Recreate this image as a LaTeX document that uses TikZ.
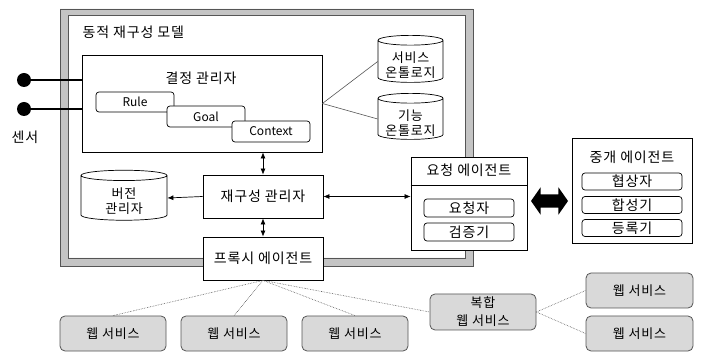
\documentclass[tikz,border=0pt]{standalone}
\usepackage{fontspec}
\setmainfont{Noto Sans CJK KR}[LetterSpace=6]
\newfontfamily\latinfont{Noto Sans CJK KR}
\usetikzlibrary{shapes.geometric,shapes.arrows,arrows.meta}
\definecolor{bandcol}{HTML}{C4C4C4}
\definecolor{edgecol}{HTML}{555555}
\definecolor{wscol}{HTML}{D9D9D9}
\tikzset{
	box/.style={draw,fill=white,line width=0.8pt,inner sep=0pt,font=\fontsize{14}{16}\selectfont},
	heading/.style={font=\fontsize{14}{16}\selectfont},
	part/.style={draw,fill=white,rounded corners=3pt,line width=0.7pt,inner sep=0pt,font=\fontsize{14}{16}\selectfont},
	store/.style={cylinder,shape border rotate=90,shape aspect=0.15,draw,fill=white,line width=0.7pt,inner sep=0pt},
	storetext/.style={align=center,inner sep=0pt,font=\fontsize{13}{15}\selectfont},
	websvc/.style={draw=edgecol,fill=wscol,rounded corners=5pt,line width=0.8pt,inner sep=0pt,minimum width=106pt,minimum height=35pt,align=center,font=\fontsize{13}{18}\selectfont},
	link/.style={draw=edgecol,line width=0.6pt,densely dotted},
	flow/.style={line width=0.7pt,-{Latex[length=6pt,width=5pt]}},
	duplex/.style={line width=0.7pt,{Latex[length=6pt,width=5pt]}-{Latex[length=6pt,width=5pt]}}
}
\begin{document}
\begin{tikzpicture}[x=1pt,y=-1pt]
\useasboundingbox (0,0) rectangle (701,352);
\filldraw[draw=edgecol,fill=bandcol,line width=0.7pt,even odd rule] (60,9) rectangle (473,266) (68,15) rectangle (465,258);
\node[heading,anchor=west] (modeltitle) at (79,32) {동적 재구성 모델};

\node[box,minimum width=240pt,minimum height=97pt] (dm) at (202,103.5) {};
\node[heading] (dmtitle) at (201,78) {결정 관리자};
\node[part,font=\latinfont\fontsize{12}{14}\selectfont,minimum width=78pt,minimum height=20pt] (rule) at (135,102) {Rule};
\node[part,font=\latinfont\fontsize{12}{14}\selectfont,minimum width=78pt,minimum height=21pt] (goal) at (206,116.5) {Goal};
\node[part,font=\latinfont\fontsize{12}{14}\selectfont,minimum width=78pt,minimum height=21pt] (context) at (271,131.5) {Context};

\node[store,minimum width=65pt,minimum height=47pt] (svconto) at (410.5,61.5) {\rule{65pt}{0pt}};
\node[storetext] (svcontotext) at (410.5,65) {서비스\\온톨로지};
\node[store,minimum width=65pt,minimum height=46pt] (funconto) at (410.5,119) {\rule{65pt}{0pt}};
\node[storetext] (funcontotext) at (410.5,123) {기능\\온톨로지};
\draw[edgecol,line width=0.6pt] (dm.east) -- (svconto.west);
\draw[edgecol,line width=0.6pt] (dm.east) -- (funconto.west);

\foreach \name/\y in {sensora/80,sensorb/109}{
	\node[circle,fill=black,minimum size=14pt,inner sep=0pt] (\name) at (24,\y) {};
	\draw[line width=2.5pt] (\name.center) -- (\name.center -| dm.west);
	}
\node[heading] (sensorlabel) at (25,137) {센서};

\node[box,minimum width=120pt,minimum height=43pt] (reconf) at (263,196.5) {재구성 관리자};
\node[store,shape aspect=0.12,minimum width=86pt,minimum height=50pt] (version) at (124,198) {\rule{86pt}{0pt}};
\node[storetext] (versiontext) at (124,201.5) {버전\\관리자};
\node[box,minimum width=120pt,minimum height=43pt] (proxy) at (263,258.5) {프록시 에이전트};

\node[box,minimum width=116pt,minimum height=93pt] (req) at (469,203.5) {};
\node[heading] (reqtitle) at (469,170) {요청 에이전트};
\draw[line width=0.7pt] (req.west |- 0,185) -- (req.east |- 0,185);
\node[part,minimum width=90pt,minimum height=18pt] (requester) at (469,208) {요청자};
\node[part,minimum width=90pt,minimum height=18pt] (verifier) at (469,232) {검증기};

\node[double arrow,fill=black,inner sep=6.5pt,double arrow head extend=7pt,double arrow tip angle=110,minimum height=37pt] (xchg) at (549.5,201) {};

\node[box,minimum width=120pt,minimum height=105pt] (broker) at (632,190.5) {};
\node[heading] (brokertitle) at (632,157) {중개 에이전트};
\foreach \name/\label/\y in {negotiator/협상자/181.5,composer/합성기/205,registry/등록기/228}
	\node[part,minimum width=100pt,minimum height=17pt] (\name) at (632,\y) {\label};

\draw[duplex] (reconf.north) -- (reconf.north |- dm.south);
\draw[duplex] (reconf.south) -- (proxy.north);
\draw[flow] (reconf.west) -- (version.east);
\draw[duplex] (reconf.east) -- (req.west |- reconf.east);

\foreach \name/\x in {wsa/113,wsb/234,wsc/355}
	\node[websvc] (\name) at (\x,333.5) {웹 서비스};
\node[websvc,minimum height=36pt] (composite) at (483,312) {복합\\웹 서비스};
\node[websvc,minimum width=107pt] (wsd) at (639.5,290.5) {웹 서비스};
\node[websvc,minimum width=107pt] (wse) at (639.5,333.5) {웹 서비스};

\foreach \target in {wsa,wsb,wsc}
	\draw[link] (proxy.south) -- (\target.north);
\draw[link] (proxy.south) -- (composite.west);
\draw[link] (composite.east) -- (wsd.west);
\draw[link] (composite.east) -- (wse.west);
\end{tikzpicture}
\end{document}
